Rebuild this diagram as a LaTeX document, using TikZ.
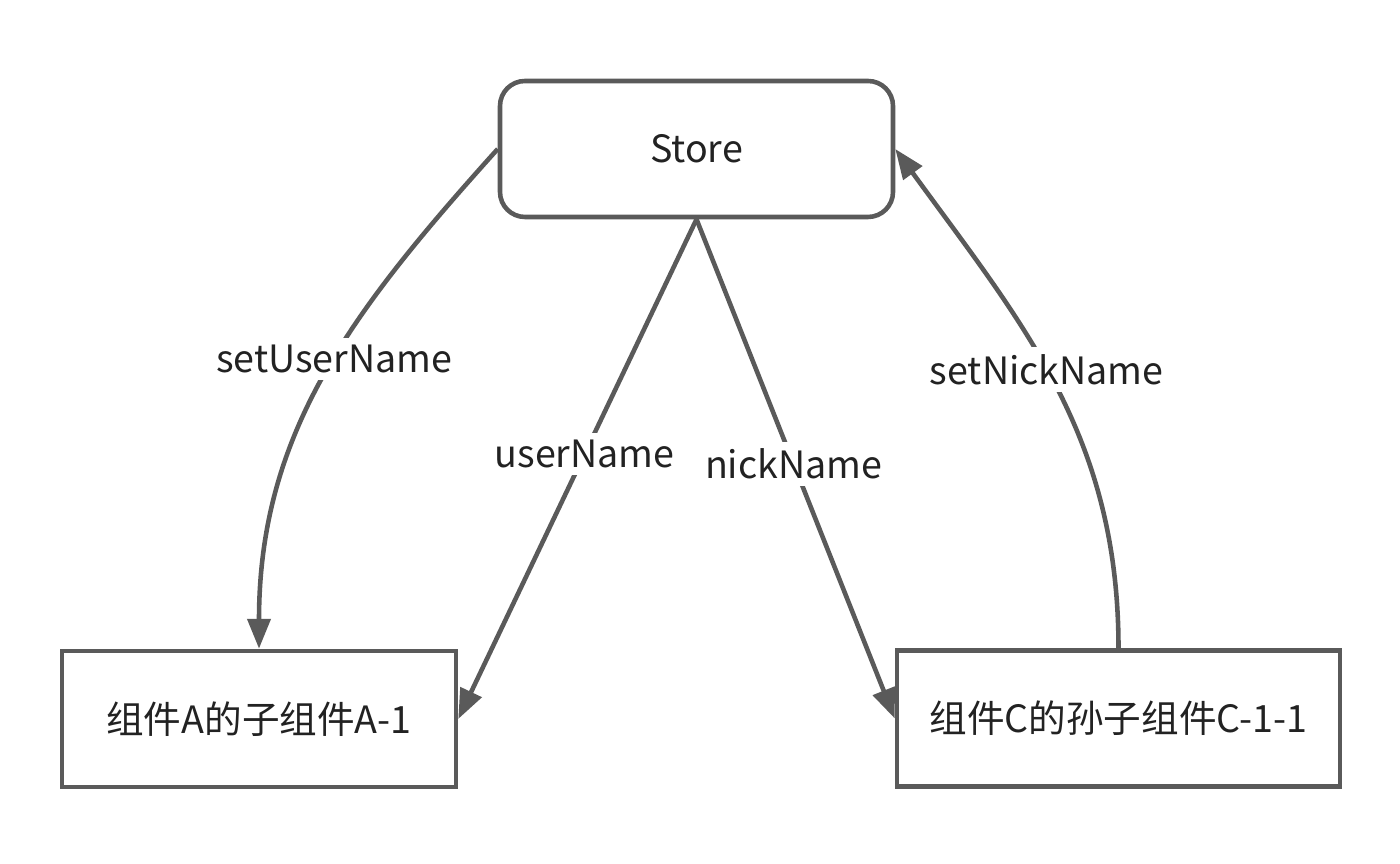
\documentclass[tikz,border=0pt]{standalone}
\usepackage{fontspec}
\setmainfont{Noto Sans CJK SC}
\usetikzlibrary{arrows.meta}
\definecolor{linegray}{RGB}{90,90,90}
\definecolor{textgray}{RGB}{34,34,34}

\begin{document}
\begin{tikzpicture}[
    x=1cm,
    y=1cm,
    every node/.style={font=\fontsize{10.7pt}{13pt}\selectfont, text=textgray},
    box/.style={draw=linegray, line width=1.3pt, minimum height=1.36cm},
    link/.style={draw=linegray, line width=1.3pt,
                 -{Stealth[length=8.5pt,width=6.5pt,inset=0pt]}},
    lbl/.style={fill=white, inner sep=2pt}
]

\useasboundingbox (0,0) rectangle (14,8.64);

% Store and the two components
\node[box, rounded corners=0.25cm, minimum width=3.93cm] (store) at (6.965,7.15) {Store};
\node[box, minimum width=3.94cm] (compA) at (2.59,1.45) {组件A的子组件A-1};
\node[box, minimum width=4.43cm] (compC) at (11.185,1.455) {组件C的孙子组件C-1-1};

% Left side: setter and state
\draw[link] (store.west) to[out=228, in=90]
      node[lbl, pos=0.46] (setuser) {setUserName} (compA.north);
\draw[link] (store.south) --
      node[lbl, pos=0.47] (user) {userName} (compA.east);

% Right side: state and setter
\draw[link] (store.south) --
      node[lbl, pos=0.49] (nick) {nickName} (compC.west);
\draw[link] (compC.north) to[out=90, in=-54]
      node[lbl, pos=0.53] (setnick) {setNickName} (store.east);

\end{tikzpicture}
\end{document}
